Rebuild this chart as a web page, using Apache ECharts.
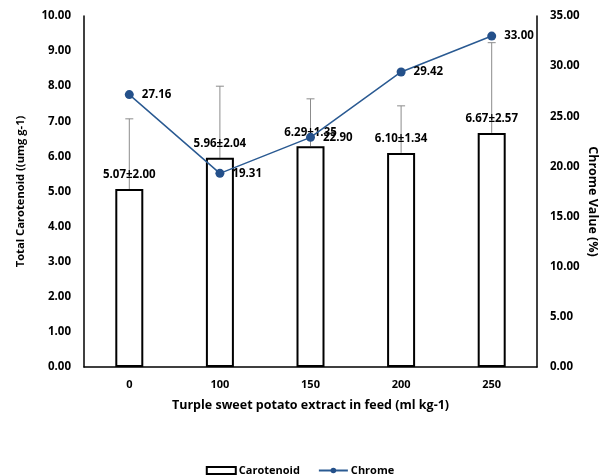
<!DOCTYPE html>
<html><head><meta charset="utf-8">
<script src="https://cdn.jsdelivr.net/npm/echarts@6/dist/echarts.min.js"></script>
<style>html,body{margin:0;padding:0;background:#fff}#c{width:600px;height:476px}</style>
</head><body><div id="c"></div>
<script>
var categories = ['0', '100', '150', '200', '250'];
var carotenoid = [5.07, 5.96, 6.29, 6.10, 6.67];
var carotenoidSd = [2.00, 2.04, 1.35, 1.34, 2.57];
var chrome = [27.16, 19.31, 22.90, 29.42, 33.00];
var leftTicks = {min: 0, max: 10, interval: 1};
var rightTicks = {min: 0, max: 35, interval: 5};

var FONT = '"Open Sans", "Noto Sans", sans-serif';
var chart = echarts.init(document.getElementById('c'), null, {renderer: 'canvas'});
var errData = carotenoid.map(function (v, i) { return [i, v, v + carotenoidSd[i]]; });

chart.setOption({
  animation: false,
  textStyle: {fontFamily: FONT},
  grid: {left: 84, right: 63, top: 16, bottom: 109, containLabel: false, outerBoundsMode: 'none'},
  legend: {
    top: 460, left: 'center', itemGap: 18, itemWidth: 29, itemHeight: 7,
    textStyle: {fontFamily: FONT, fontWeight: 'bold', fontSize: 11, color: '#000', padding: [0, 0, 0, -2]},
    data: [
      {name: 'Carotenoid', icon: 'rect', itemStyle: {color: '#fff', borderColor: '#000', borderWidth: 2}},
      {name: 'Chrome'}
    ]
  },
  xAxis: {
    type: 'category', data: categories,
    name: 'Turple sweet potato extract in feed (ml kg-1)', nameLocation: 'middle', nameGap: 32,
    nameTextStyle: {fontFamily: FONT, fontWeight: 'bold', fontSize: 12.5, color: '#000'},
    axisLine: {lineStyle: {color: '#000', width: 1.5}},
    axisTick: {show: false},
    axisLabel: {fontFamily: FONT, fontWeight: 'bold', fontSize: 11, color: '#000', margin: 12}
  },
  yAxis: [{
    type: 'value', min: leftTicks.min, max: leftTicks.max, interval: leftTicks.interval,
    name: 'Total Carotenoid ((umg g-1)', nameLocation: 'middle', nameGap: 58, nameRotate: 90,
    nameTextStyle: {fontFamily: FONT, fontWeight: 'bold', fontSize: 11.2, color: '#000'},
    axisLine: {show: true, lineStyle: {color: '#000', width: 1.5}},
    axisTick: {show: false}, splitLine: {show: false},
    axisLabel: {fontFamily: FONT, fontWeight: 'bold', fontSize: 11.5, color: '#000', margin: 13,
      formatter: function (v) { return v.toFixed(2); }}
  }, {
    type: 'value', min: rightTicks.min, max: rightTicks.max, interval: rightTicks.interval,
    name: 'Chrome Value (%)', nameLocation: 'middle', nameGap: 49, nameRotate: -90,
    nameMoveOverlap: false,
    nameTextStyle: {fontFamily: FONT, fontWeight: 'bold', fontSize: 12.5, color: '#000', padding: [0, 0, 0, 20]},
    axisLine: {show: true, lineStyle: {color: '#000', width: 1.5}},
    axisTick: {show: false}, splitLine: {show: false},
    axisLabel: {fontFamily: FONT, fontWeight: 'bold', fontSize: 11.5, color: '#000', margin: 13,
      formatter: function (v) { return v.toFixed(2); }}
  }],
  series: [{
    name: 'Carotenoid', type: 'bar', data: carotenoid, barWidth: 28, yAxisIndex: 0,
    itemStyle: {color: '#fff', borderColor: '#000', borderWidth: 2},
    label: {show: false}, z: 2
  }, {
    name: 'err', type: 'custom', yAxisIndex: 0, data: errData, z: 1,
    renderItem: function (params, api) {
      var x = api.value(0);
      var p0 = api.coord([x, api.value(1)]);
      var p1 = api.coord([x, api.value(2)]);
      var style = {stroke: '#8c8c8c', lineWidth: 1};
      return {type: 'group', children: [
        {type: 'line', shape: {x1: p0[0], y1: p0[1], x2: p1[0], y2: p1[1]}, style: style},
        {type: 'line', shape: {x1: p1[0] - 4, y1: p1[1], x2: p1[0] + 4, y2: p1[1]}, style: style},
        {type: 'text', style: {
          text: api.value(1).toFixed(2) + '±' + carotenoidSd[params.dataIndex].toFixed(2),
          x: p0[0], y: p0[1] - 14, textAlign: 'center', textVerticalAlign: 'middle',
          font: 'bold 11.5px ' + FONT, fill: '#000'}, z2: 10}
      ]};
    }
  }, {
    name: 'Chrome', type: 'line', yAxisIndex: 1, data: chrome, z: 5,
    symbol: 'circle', symbolSize: 9,
    lineStyle: {color: '#2a5a92', width: 1.5},
    itemStyle: {color: '#24508a'},
    label: {show: true, position: 'right', distance: 8, fontFamily: FONT, fontWeight: 'bold',
      fontSize: 11.5, color: '#000', formatter: function (p) { return p.value.toFixed(2); }}
  }]
});
</script></body></html>
